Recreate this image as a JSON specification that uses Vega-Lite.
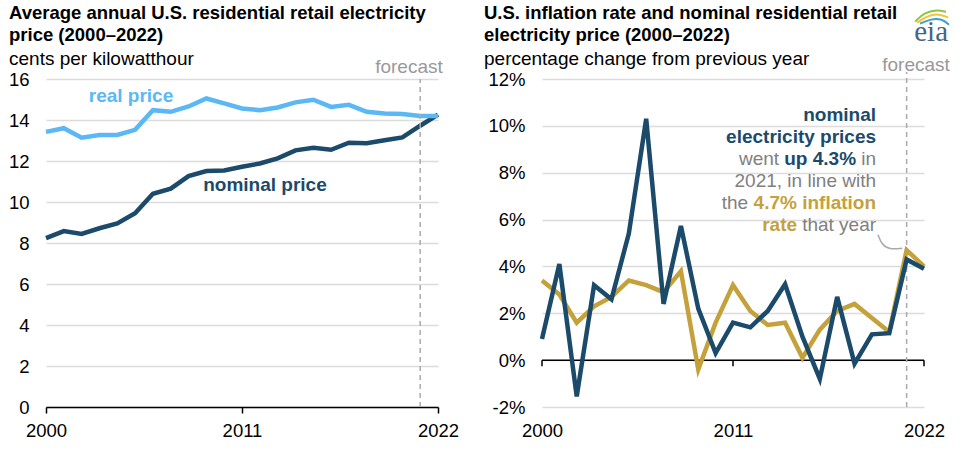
{
  "$schema": "https://vega.github.io/schema/vega-lite/v6.json",
  "padding": {"left": 8, "right": 4, "top": 3, "bottom": 4},
  "spacing": 25,
  "resolve": {"scale": {"color": "independent"}},
  "config": {
    "font": "Liberation Sans, Arial, Helvetica, sans-serif",
    "view": {"stroke": null},
    "title": {"anchor": "start", "frame": "group", "fontSize": 18.5, "fontWeight": "bold", "color": "#000", "lineHeight": 22, "subtitleFontSize": 19, "subtitleColor": "#000", "subtitlePadding": 6, "subtitleLineHeight": 22},
    "axis": {"labelFontSize": 18.5, "labelColor": "#000", "title": null, "gridColor": "#dcdcdc", "gridWidth": 1.5}
  },
  "datasets": {
    "prices": [
      {"year": 2000, "series": "nominal price", "value": 8.24},
      {"year": 2001, "series": "nominal price", "value": 8.58},
      {"year": 2002, "series": "nominal price", "value": 8.44},
      {"year": 2003, "series": "nominal price", "value": 8.72},
      {"year": 2004, "series": "nominal price", "value": 8.95},
      {"year": 2005, "series": "nominal price", "value": 9.45},
      {"year": 2006, "series": "nominal price", "value": 10.40},
      {"year": 2007, "series": "nominal price", "value": 10.65},
      {"year": 2008, "series": "nominal price", "value": 11.26},
      {"year": 2009, "series": "nominal price", "value": 11.51},
      {"year": 2010, "series": "nominal price", "value": 11.54},
      {"year": 2011, "series": "nominal price", "value": 11.72},
      {"year": 2012, "series": "nominal price", "value": 11.88},
      {"year": 2013, "series": "nominal price", "value": 12.13},
      {"year": 2014, "series": "nominal price", "value": 12.52},
      {"year": 2015, "series": "nominal price", "value": 12.65},
      {"year": 2016, "series": "nominal price", "value": 12.55},
      {"year": 2017, "series": "nominal price", "value": 12.89},
      {"year": 2018, "series": "nominal price", "value": 12.87},
      {"year": 2019, "series": "nominal price", "value": 13.01},
      {"year": 2020, "series": "nominal price", "value": 13.15},
      {"year": 2021, "series": "nominal price", "value": 13.72},
      {"year": 2022, "series": "nominal price", "value": 14.26},
      {"year": 2000, "series": "real price", "value": 13.42},
      {"year": 2001, "series": "real price", "value": 13.60},
      {"year": 2002, "series": "real price", "value": 13.14},
      {"year": 2003, "series": "real price", "value": 13.27},
      {"year": 2004, "series": "real price", "value": 13.27},
      {"year": 2005, "series": "real price", "value": 13.52},
      {"year": 2006, "series": "real price", "value": 14.48},
      {"year": 2007, "series": "real price", "value": 14.40},
      {"year": 2008, "series": "real price", "value": 14.66},
      {"year": 2009, "series": "real price", "value": 15.05},
      {"year": 2010, "series": "real price", "value": 14.81},
      {"year": 2011, "series": "real price", "value": 14.56},
      {"year": 2012, "series": "real price", "value": 14.48},
      {"year": 2013, "series": "real price", "value": 14.61},
      {"year": 2014, "series": "real price", "value": 14.86},
      {"year": 2015, "series": "real price", "value": 14.99},
      {"year": 2016, "series": "real price", "value": 14.64},
      {"year": 2017, "series": "real price", "value": 14.74},
      {"year": 2018, "series": "real price", "value": 14.40},
      {"year": 2019, "series": "real price", "value": 14.32},
      {"year": 2020, "series": "real price", "value": 14.29},
      {"year": 2021, "series": "real price", "value": 14.20},
      {"year": 2022, "series": "real price", "value": 14.20}
    ],
    "changes": [
      {"year": 2000, "series": "inflation", "value": 3.4},
      {"year": 2001, "series": "inflation", "value": 2.8},
      {"year": 2002, "series": "inflation", "value": 1.6},
      {"year": 2003, "series": "inflation", "value": 2.3},
      {"year": 2004, "series": "inflation", "value": 2.7},
      {"year": 2005, "series": "inflation", "value": 3.4},
      {"year": 2006, "series": "inflation", "value": 3.2},
      {"year": 2007, "series": "inflation", "value": 2.9},
      {"year": 2008, "series": "inflation", "value": 3.8},
      {"year": 2009, "series": "inflation", "value": -0.4},
      {"year": 2010, "series": "inflation", "value": 1.6},
      {"year": 2011, "series": "inflation", "value": 3.2},
      {"year": 2012, "series": "inflation", "value": 2.1},
      {"year": 2013, "series": "inflation", "value": 1.5},
      {"year": 2014, "series": "inflation", "value": 1.6},
      {"year": 2015, "series": "inflation", "value": 0.1},
      {"year": 2016, "series": "inflation", "value": 1.3},
      {"year": 2017, "series": "inflation", "value": 2.1},
      {"year": 2018, "series": "inflation", "value": 2.4},
      {"year": 2019, "series": "inflation", "value": 1.8},
      {"year": 2020, "series": "inflation", "value": 1.2},
      {"year": 2021, "series": "inflation", "value": 4.7},
      {"year": 2022, "series": "inflation", "value": 4.0},
      {"year": 2000, "series": "nominal", "value": 0.9},
      {"year": 2001, "series": "nominal", "value": 4.1},
      {"year": 2002, "series": "nominal", "value": -1.55},
      {"year": 2003, "series": "nominal", "value": 3.2},
      {"year": 2004, "series": "nominal", "value": 2.6},
      {"year": 2005, "series": "nominal", "value": 5.4},
      {"year": 2006, "series": "nominal", "value": 10.3},
      {"year": 2007, "series": "nominal", "value": 2.4},
      {"year": 2008, "series": "nominal", "value": 5.73},
      {"year": 2009, "series": "nominal", "value": 2.2},
      {"year": 2010, "series": "nominal", "value": 0.3},
      {"year": 2011, "series": "nominal", "value": 1.6},
      {"year": 2012, "series": "nominal", "value": 1.4},
      {"year": 2013, "series": "nominal", "value": 2.1},
      {"year": 2014, "series": "nominal", "value": 3.24},
      {"year": 2015, "series": "nominal", "value": 1.0},
      {"year": 2016, "series": "nominal", "value": -0.8},
      {"year": 2017, "series": "nominal", "value": 2.7},
      {"year": 2018, "series": "nominal", "value": -0.15},
      {"year": 2019, "series": "nominal", "value": 1.1},
      {"year": 2020, "series": "nominal", "value": 1.15},
      {"year": 2021, "series": "nominal", "value": 4.3},
      {"year": 2022, "series": "nominal", "value": 3.9}
    ],
    "ticks": [{"year": 2000}, {"year": 2011}, {"year": 2022}],
    "connector": [
      {"year": 2019.35, "value": 5.35},
      {"year": 2019.55, "value": 4.95},
      {"year": 2020.0, "value": 4.72},
      {"year": 2020.75, "value": 4.78}
    ],
    "logo_green": [
      {"year": 2021.49, "value": 14.45},
      {"year": 2022.0, "value": 14.83},
      {"year": 2022.75, "value": 14.96},
      {"year": 2023.27, "value": 14.87}
    ],
    "logo_yellow": [
      {"year": 2021.6, "value": 14.40},
      {"year": 2022.18, "value": 14.70},
      {"year": 2022.87, "value": 14.79},
      {"year": 2023.39, "value": 14.62}
    ],
    "logo_blue": [
      {"year": 2021.77, "value": 14.36},
      {"year": 2022.41, "value": 14.57},
      {"year": 2023.04, "value": 14.57},
      {"year": 2023.44, "value": 14.32}
    ],
    "one": [{}]
  },
  "hconcat": [
    {
      "width": 392,
      "height": 328,
      "title": {"text": ["Average annual U.S. residential retail electricity", "price (2000–2022)"], "subtitle": "cents per kilowatthour", "dx": -37, "offset": -11},
      "layer": [
        {
          "data": {"name": "prices"},
          "mark": {"type": "line", "strokeWidth": 4.5, "strokeJoin": "miter"},
          "encoding": {
            "x": {"field": "year", "type": "quantitative", "scale": {"domain": [2000, 2022], "nice": false, "zero": false},
              "axis": {"values": [2000, 2011, 2022], "format": "d", "grid": false, "domainColor": "#000", "domainWidth": 1.5, "tickColor": "#000", "tickWidth": 1.5, "tickSize": 6, "labelPadding": 8, "labelFlush": false}},
            "y": {"field": "value", "type": "quantitative", "scale": {"domain": [0, 16], "nice": false},
              "axis": {"values": [0, 2, 4, 6, 8, 10, 12, 14, 16], "domain": false, "ticks": false, "grid": true, "labelPadding": 17}},
            "color": {"field": "series", "type": "nominal", "scale": {"domain": ["real price", "nominal price"], "range": ["#5BB8F4", "#1B4A6B"]}, "legend": null}
          }
        },
        {
          "data": {"name": "one"},
          "mark": {"type": "rule", "strokeDash": [5, 4], "color": "#aaaaaa", "strokeWidth": 1.5},
          "encoding": {"x": {"datum": 2021, "type": "quantitative"}, "y": {"datum": 0, "type": "quantitative"}, "y2": {"datum": 16}}
        },
        {
          "data": {"name": "one"},
          "mark": {"type": "text", "text": "forecast", "fontSize": 19, "color": "#999999", "align": "center", "baseline": "middle"},
          "encoding": {"x": {"datum": 2020.37, "type": "quantitative"}, "y": {"datum": 16.58, "type": "quantitative"}}
        },
        {
          "data": {"name": "one"},
          "mark": {"type": "text", "text": "real price", "fontSize": 19, "fontWeight": "bold", "color": "#5BB8F4", "align": "center", "baseline": "middle"},
          "encoding": {"x": {"datum": 2004.77, "type": "quantitative"}, "y": {"datum": 15.17, "type": "quantitative"}}
        },
        {
          "data": {"name": "one"},
          "mark": {"type": "text", "text": "nominal price", "fontSize": 19, "fontWeight": "bold", "color": "#1B4A6B", "align": "center", "baseline": "middle"},
          "encoding": {"x": {"datum": 2012.29, "type": "quantitative"}, "y": {"datum": 10.82, "type": "quantitative"}}
        }
      ]
    },
    {
      "width": 382,
      "height": 328,
      "title": {"text": ["U.S. inflation rate and nominal residential retail", "electricity price (2000–2022)"], "subtitle": "percentage change from previous year", "dx": -58, "offset": -63},
      "layer": [
        {
          "data": {"name": "one"},
          "mark": {"type": "rule", "color": "#000", "strokeWidth": 1.5},
          "encoding": {"y": {"datum": 0, "type": "quantitative"}}
        },
        {
          "data": {"name": "ticks"},
          "mark": {"type": "rule", "color": "#000", "strokeWidth": 1.5},
          "encoding": {"x": {"field": "year", "type": "quantitative"}, "y": {"datum": 0, "type": "quantitative"}, "y2": {"datum": -0.26}}
        },
        {
          "data": {"name": "one"},
          "mark": {"type": "rule", "strokeDash": [5, 4], "color": "#aaaaaa", "strokeWidth": 1.5},
          "encoding": {"x": {"datum": 2021, "type": "quantitative"}, "y": {"datum": -2, "type": "quantitative"}, "y2": {"datum": 12.3}}
        },
        {
          "data": {"name": "changes"},
          "mark": {"type": "line", "strokeWidth": 4.5, "strokeJoin": "miter"},
          "encoding": {
            "x": {"field": "year", "type": "quantitative", "scale": {"domain": [2000, 2022], "nice": false, "zero": false},
              "axis": {"values": [2000, 2011, 2022], "format": "d", "grid": false, "domain": false, "ticks": false, "labelPadding": 14, "labelFlush": false}},
            "y": {"field": "value", "type": "quantitative", "scale": {"domain": [-2, 12], "nice": false},
              "axis": {"values": [-2, 0, 2, 4, 6, 8, 10, 12], "labelExpr": "datum.value + '%'", "domain": false, "ticks": false, "grid": true, "labelPadding": 17}},
            "color": {"field": "series", "type": "nominal", "scale": {"domain": ["inflation", "nominal"], "range": ["#C4A13B", "#1B4A6B"]}, "legend": null}
          }
        },
        {
          "data": {"name": "connector"},
          "mark": {"type": "line", "color": "#aaaaaa", "strokeWidth": 1.5, "interpolate": "basis"},
          "encoding": {"x": {"field": "year", "type": "quantitative"}, "y": {"field": "value", "type": "quantitative"}}
        },
        {
          "data": {"name": "one"},
          "mark": {"type": "text", "text": "forecast", "fontSize": 19, "color": "#999999", "align": "center", "baseline": "middle"},
          "encoding": {"x": {"datum": 2021.54, "type": "quantitative"}, "y": {"datum": 12.61, "type": "quantitative"}}
        },
        {
          "data": {"name": "logo_green"},
          "mark": {"type": "line", "color": "#8DC63F", "strokeWidth": 2, "interpolate": "basis"},
          "encoding": {"x": {"field": "year", "type": "quantitative"}, "y": {"field": "value", "type": "quantitative"}}
        },
        {
          "data": {"name": "logo_yellow"},
          "mark": {"type": "line", "color": "#F2C62E", "strokeWidth": 2, "interpolate": "basis"},
          "encoding": {"x": {"field": "year", "type": "quantitative"}, "y": {"field": "value", "type": "quantitative"}}
        },
        {
          "data": {"name": "logo_blue"},
          "mark": {"type": "line", "color": "#3C9FD8", "strokeWidth": 2, "interpolate": "basis"},
          "encoding": {"x": {"field": "year", "type": "quantitative"}, "y": {"field": "value", "type": "quantitative"}}
        },
        {
          "data": {"name": "one"},
          "mark": {"type": "text", "text": "eia", "font": "Liberation Serif, DejaVu Serif, serif", "fontSize": 29, "color": "#46657F", "align": "center", "baseline": "middle"},
          "encoding": {"x": {"datum": 2022.41, "type": "quantitative"}, "y": {"datum": 14.0, "type": "quantitative"}}
        },
        {
          "data": {"name": "one"},
          "mark": {"type": "text", "text": "nominal", "fontSize": 19, "fontWeight": "bold", "color": "#1B4A6B", "align": "right", "baseline": "middle"},
          "encoding": {"x": {"datum": 2019.24, "type": "quantitative"}, "y": {"datum": 10.48, "type": "quantitative"}}
        },
        {
          "data": {"name": "one"},
          "mark": {"type": "text", "text": "electricity prices", "fontSize": 19, "fontWeight": "bold", "color": "#1B4A6B", "align": "right", "baseline": "middle"},
          "encoding": {"x": {"datum": 2019.24, "type": "quantitative"}, "y": {"datum": 9.54, "type": "quantitative"}}
        },
        {
          "data": {"name": "one"},
          "mark": {"type": "text", "text": "in", "fontSize": 19, "color": "#808080", "align": "right", "baseline": "middle"},
          "encoding": {"x": {"datum": 2019.24, "type": "quantitative"}, "y": {"datum": 8.6, "type": "quantitative"}}
        },
        {
          "data": {"name": "one"},
          "mark": {"type": "text", "text": "up 4.3%", "fontSize": 19, "fontWeight": "bold", "color": "#1B4A6B", "align": "right", "baseline": "middle", "dx": -20},
          "encoding": {"x": {"datum": 2019.24, "type": "quantitative"}, "y": {"datum": 8.6, "type": "quantitative"}}
        },
        {
          "data": {"name": "one"},
          "mark": {"type": "text", "text": "went", "fontSize": 19, "color": "#808080", "align": "right", "baseline": "middle", "dx": -97},
          "encoding": {"x": {"datum": 2019.24, "type": "quantitative"}, "y": {"datum": 8.6, "type": "quantitative"}}
        },
        {
          "data": {"name": "one"},
          "mark": {"type": "text", "text": "2021, in line with", "fontSize": 19, "color": "#808080", "align": "right", "baseline": "middle"},
          "encoding": {"x": {"datum": 2019.24, "type": "quantitative"}, "y": {"datum": 7.66, "type": "quantitative"}}
        },
        {
          "data": {"name": "one"},
          "mark": {"type": "text", "text": "4.7% inflation", "fontSize": 19, "fontWeight": "bold", "color": "#C4A13B", "align": "right", "baseline": "middle"},
          "encoding": {"x": {"datum": 2019.24, "type": "quantitative"}, "y": {"datum": 6.72, "type": "quantitative"}}
        },
        {
          "data": {"name": "one"},
          "mark": {"type": "text", "text": "the", "fontSize": 19, "color": "#808080", "align": "right", "baseline": "middle", "dx": -128},
          "encoding": {"x": {"datum": 2019.24, "type": "quantitative"}, "y": {"datum": 6.72, "type": "quantitative"}}
        },
        {
          "data": {"name": "one"},
          "mark": {"type": "text", "text": "that year", "fontSize": 19, "color": "#808080", "align": "right", "baseline": "middle"},
          "encoding": {"x": {"datum": 2019.24, "type": "quantitative"}, "y": {"datum": 5.78, "type": "quantitative"}}
        },
        {
          "data": {"name": "one"},
          "mark": {"type": "text", "text": "rate", "fontSize": 19, "fontWeight": "bold", "color": "#C4A13B", "align": "right", "baseline": "middle", "dx": -79},
          "encoding": {"x": {"datum": 2019.24, "type": "quantitative"}, "y": {"datum": 5.78, "type": "quantitative"}}
        }
      ]
    }
  ]
}
